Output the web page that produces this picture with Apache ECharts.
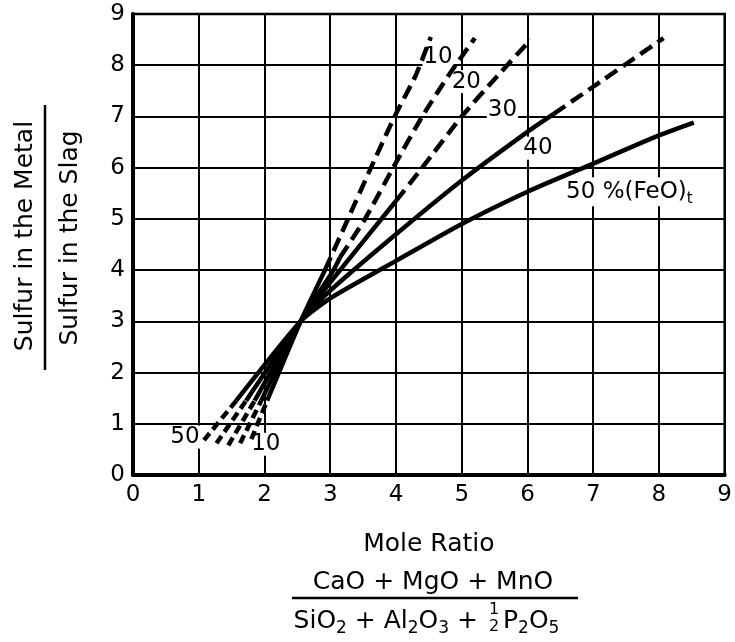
<!DOCTYPE html>
<html>
<head>
<meta charset="utf-8">
<script src="https://cdn.jsdelivr.net/npm/echarts@6/dist/echarts.min.js"></script>
<style>html,body{margin:0;padding:0;background:#fff;}#c{width:735px;height:642px;}</style>
</head>
<body>
<div id="c"></div>
<script>
// ---- tick labels ----
const xTickLabels = ['0','1','2','3','4','5','6','7','8','9'];
const yTickLabels = ['0','1','2','3','4','5','6','7','8','9'];

// ---- curves: [moleRatio, sulfurRatio], split by line style ----
// 10 % (FeO)t
const feo10Lower = [[1.80,0.70],[2.04,1.45]];
const feo10Solid = [[2.04,1.45],[2.55,3.00],[2.92,4.00]];
const feo10Upper = [[2.92,4.00],[3.27,5.00],[3.62,6.00],[3.98,7.00],[4.30,7.80],[4.53,8.55]];
// 20 %
const feo20Lower = [[1.63,0.62],[1.95,1.45]];
const feo20Solid = [[1.95,1.45],[2.55,3.00],[3.05,4.00],[3.15,4.25]];
const feo20Upper = [[3.15,4.25],[3.53,5.00],[4.00,6.10],[4.40,7.00],[4.80,7.80],[5.20,8.53]];
// 30 %
const feo30Lower = [[1.45,0.58],[1.85,1.45]];
const feo30Solid = [[1.85,1.45],[2.55,3.00],[3.15,4.00],[4.00,5.35]];
const feo30Upper = [[4.00,5.35],[4.40,6.00],[5.00,7.00],[5.55,7.80],[6.05,8.50]];
// 40 %
const feo40Lower = [[1.27,0.62],[1.72,1.45]];
const feo40Solid = [[1.72,1.45],[2.55,3.00],[3.00,3.60],[4.00,4.70],[5.00,5.75],[6.00,6.70],[6.40,7.05]];
const feo40Upper = [[6.40,7.05],[7.00,7.58],[8.07,8.53]];
// 50 %
const feo50Lower = [[1.08,0.68],[1.57,1.45]];
const feo50Solid = [[1.57,1.45],[2.55,3.00],[3.00,3.45],[4.00,4.18],[5.00,4.90],[6.00,5.53],[7.00,6.08],[8.00,6.63],[8.53,6.88]];

// ---- curve annotations ----
const annoText = ['10','20','30','40','50 %(FeO){t|t}','50','10'];
const annoX    = [4.64, 5.07, 5.62, 6.16, 7.55, 0.79, 2.02];
const annoY    = [8.16, 7.68, 7.13, 6.38, 5.53, 0.74, 0.60];

const FONT = 'DejaVu Sans';
const chart = echarts.init(document.getElementById('c'), null, {renderer:'canvas'});

function seg(name, data, dash) {
  return {
    type:'line', name:name, data:data, symbol:'none', smooth:0.2, z:3,
    silent:true, animation:false,
    lineStyle:{color:'#000', width:4.5, type: dash ? dash : 'solid', cap:'butt', join:'round'}
  };
}
const upDash = [14,7];
const lowDash = [9,5];

const series = [
  seg('10L', feo10Lower, lowDash), seg('10S', feo10Solid), seg('10U', feo10Upper, upDash),
  seg('20L', feo20Lower, lowDash), seg('20S', feo20Solid), seg('20U', feo20Upper, upDash),
  seg('30L', feo30Lower, lowDash), seg('30S', feo30Solid), seg('30U', feo30Upper, upDash),
  seg('40L', feo40Lower, lowDash), seg('40S', feo40Solid), seg('40U', feo40Upper, upDash),
  seg('50L', feo50Lower, lowDash), seg('50S', feo50Solid),
  {
    type:'scatter', symbolSize:0, z:2, silent:true, animation:false,
    itemStyle:{opacity:1, color:'#000'},
    data: annoText.map((t,i)=>({name:t, value:[annoX[i], annoY[i]]})),
    label:{
      show:true, position:'inside', formatter: p => p.name, opacity:1,
      color:'#000', fontFamily:FONT, fontSize:23, backgroundColor:'#fff', padding:[0,1],
      textBorderWidth:0,
      rich:{ t:{fontFamily:FONT, fontSize:15, color:'#000', padding:[14,0,0,0]} }
    },
    emphasis:{disabled:true}
  }
];

const option = {
  animation:false,
  backgroundColor:'#fff',
  grid:{left:133, right:7, top:14, bottom:167, show:true, borderColor:'#000', borderWidth:2.5},
  xAxis:{
    type:'value', min:0, max:9, interval:1,
    axisLine:{show:true, onZero:false, lineStyle:{color:'#000', width:4}},
    axisTick:{show:false},
    splitLine:{show:true, lineStyle:{color:'#000', width:2}},
    axisLabel:{color:'#000', fontFamily:FONT, fontSize:23, margin:9, formatter:v=>xTickLabels[v]},
    name:'Mole Ratio', nameLocation:'middle', nameGap:57,
    nameTextStyle:{color:'#000', fontFamily:FONT, fontSize:25}
  },
  yAxis:{
    type:'value', min:0, max:9, interval:1,
    axisLine:{show:true, onZero:false, lineStyle:{color:'#000', width:4}},
    axisTick:{show:false},
    splitLine:{show:true, lineStyle:{color:'#000', width:2}},
    axisLabel:{color:'#000', fontFamily:FONT, fontSize:23, margin:8, formatter:v=>yTickLabels[v]}
  },
  series: series,
  graphic:[
    {type:'text', x:25, y:236, rotation:Math.PI/2, silent:true,
      style:{text:'Sulfur in the Metal', fill:'#000', font:'25px "DejaVu Sans"', textAlign:'center', textVerticalAlign:'middle'}},
    {type:'line', silent:true, shape:{x1:45, y1:105, x2:45, y2:370}, style:{stroke:'#000', lineWidth:2.5}},
    {type:'text', x:70, y:238, rotation:Math.PI/2, silent:true,
      style:{text:'Sulfur in the Slag', fill:'#000', font:'25px "DejaVu Sans"', textAlign:'center', textVerticalAlign:'middle'}},
    {type:'text', x:433, y:582, silent:true,
      style:{text:'CaO + MgO + MnO', fill:'#000', font:'25px "DejaVu Sans"', textAlign:'center', textVerticalAlign:'middle'}},
    {type:'line', silent:true, shape:{x1:292, y1:598, x2:578, y2:598}, style:{stroke:'#000', lineWidth:2.5}},
    {type:'text', x:478, y:621, silent:true,
      style:{text:'{m|SiO}{s|2}{m| + Al}{s|2}{m|O}{s|3}{m| +}', textAlign:'right', textVerticalAlign:'middle',
        rich:{ m:{fontFamily:FONT, fontSize:25, fill:'#000', lineHeight:32, verticalAlign:'middle'},
               s:{fontFamily:FONT, fontSize:17, fill:'#000', lineHeight:17, verticalAlign:'bottom'} }}},
    {type:'text', x:494, y:610, silent:true,
      style:{text:'1', fill:'#000', font:'16px "DejaVu Sans"', textAlign:'center', textVerticalAlign:'middle'}},
    {type:'text', x:494, y:627, silent:true,
      style:{text:'2', fill:'#000', font:'16px "DejaVu Sans"', textAlign:'center', textVerticalAlign:'middle'}},
    {type:'text', x:503, y:621, silent:true,
      style:{text:'{m|P}{s|2}{m|O}{s|5}', textAlign:'left', textVerticalAlign:'middle',
        rich:{ m:{fontFamily:FONT, fontSize:25, fill:'#000', lineHeight:32, verticalAlign:'middle'},
               s:{fontFamily:FONT, fontSize:17, fill:'#000', lineHeight:17, verticalAlign:'bottom'} }}}
  ]
};
chart.setOption(option);
</script>
</body>
</html>
